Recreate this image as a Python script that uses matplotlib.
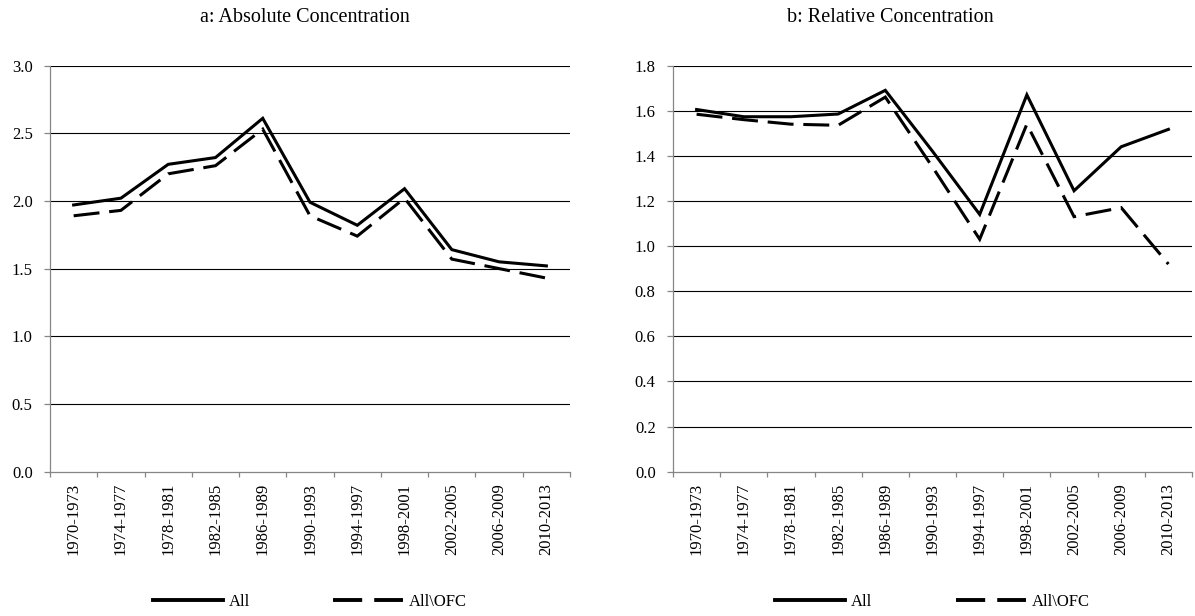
import matplotlib
matplotlib.use("Agg")
import matplotlib.pyplot as plt
from matplotlib.lines import Line2D
import numpy as np

plt.rcParams['font.family'] = ['Liberation Serif', 'DejaVu Serif']

periods = ['1970-1973', '1974-1977', '1978-1981', '1982-1985', '1986-1989',
           '1990-1993', '1994-1997', '1998-2001', '2002-2005', '2006-2009',
           '2010-2013']

# panel a: absolute concentration
abs_all = [1.97, 2.02, 2.27, 2.32, 2.61, 1.99, 1.82, 2.09, 1.64, 1.55, 1.52]
abs_ofc = [1.89, 1.93, 2.20, 2.26, 2.53, 1.89, 1.74, 2.02, 1.57, 1.50, 1.43]

# panel b: relative concentration
rel_all = [1.605, 1.573, 1.573, 1.585, 1.69, 1.42, 1.14, 1.67, 1.245, 1.44, 1.517]
rel_ofc = [1.584, 1.56, 1.54, 1.535, 1.66, 1.35, 1.03, 1.54, 1.13, 1.17, 0.92]

series_names = ['All', 'All\\OFC']
titles = ['a: Absolute Concentration', 'b: Relative Concentration']

W, H = 1195, 616
fig = plt.figure(figsize=(W / 100, H / 100), dpi=100)

grey = '#868686'
dash = (0, (8.5, 3.2))
lw = 2.2
fs = 12


def make_panel(rect, y_all, y_ofc, ymax, ystep, title, title_x):
    ax = fig.add_axes(rect)
    x = np.arange(len(periods))
    ax.plot(x, y_all, color='black', lw=lw, solid_joinstyle='miter', zorder=3)
    ax.plot(x, y_ofc, color='black', lw=lw, ls=dash, dash_joinstyle='miter', zorder=3)

    ax.set_xlim(-0.5, len(periods) - 0.5)
    ax.set_ylim(0, ymax)
    yt = np.arange(0, ymax + ystep / 2, ystep)
    ax.set_yticks(yt)
    ax.set_yticklabels([f'{v:.1f}' for v in yt], fontsize=fs)
    for v in yt[1:]:
        ax.axhline(v, color='black', lw=0.8, zorder=1)

    ax.set_xticks(x)
    ax.set_xticklabels(periods, rotation=90, fontsize=fs)
    ax.set_xticks(np.arange(-0.5, len(periods)), minor=True)
    ax.tick_params(axis='x', which='major', length=0, pad=8)
    ax.tick_params(axis='x', which='minor', length=3.5, color=grey, width=0.9, direction='out')
    ax.tick_params(axis='y', length=4.5, color=grey, width=0.9, pad=8)

    for s in ['top', 'right']:
        ax.spines[s].set_visible(False)
    for s in ['left', 'bottom']:
        ax.spines[s].set_color(grey)
        ax.spines[s].set_linewidth(0.9)
    ax.spines['bottom'].set_zorder(2)

    fig.text(title_x, 1 - 17 / H, title, ha='center', va='center', fontsize=14.5)

    # legend: solid + two long dashes, like the reference
    handles = [Line2D([], [], color='black', lw=2.8),
               Line2D([], [], color='black', lw=2.8, ls=(0, (7.5, 3.1)))]
    ax.legend(handles, series_names, loc='center', ncol=2, frameon=False,
              bbox_to_anchor=(0.5, (471.7 - 602) / (471.7 - 65.5)),
              fontsize=fs, handlelength=4.2, handletextpad=0.35,
              columnspacing=5.0, borderaxespad=0)
    return ax


bottom = (H - 471.7) / H
height = (471.7 - 65.5) / H
make_panel([50 / W, bottom, 520 / W, height], abs_all, abs_ofc, 3.0, 0.5,
           titles[0], 305 / W)
make_panel([673 / W, bottom, 519 / W, height], rel_all, rel_ofc, 1.8, 0.2,
           titles[1], 890 / W)

fig.savefig('out.png', dpi=100)
